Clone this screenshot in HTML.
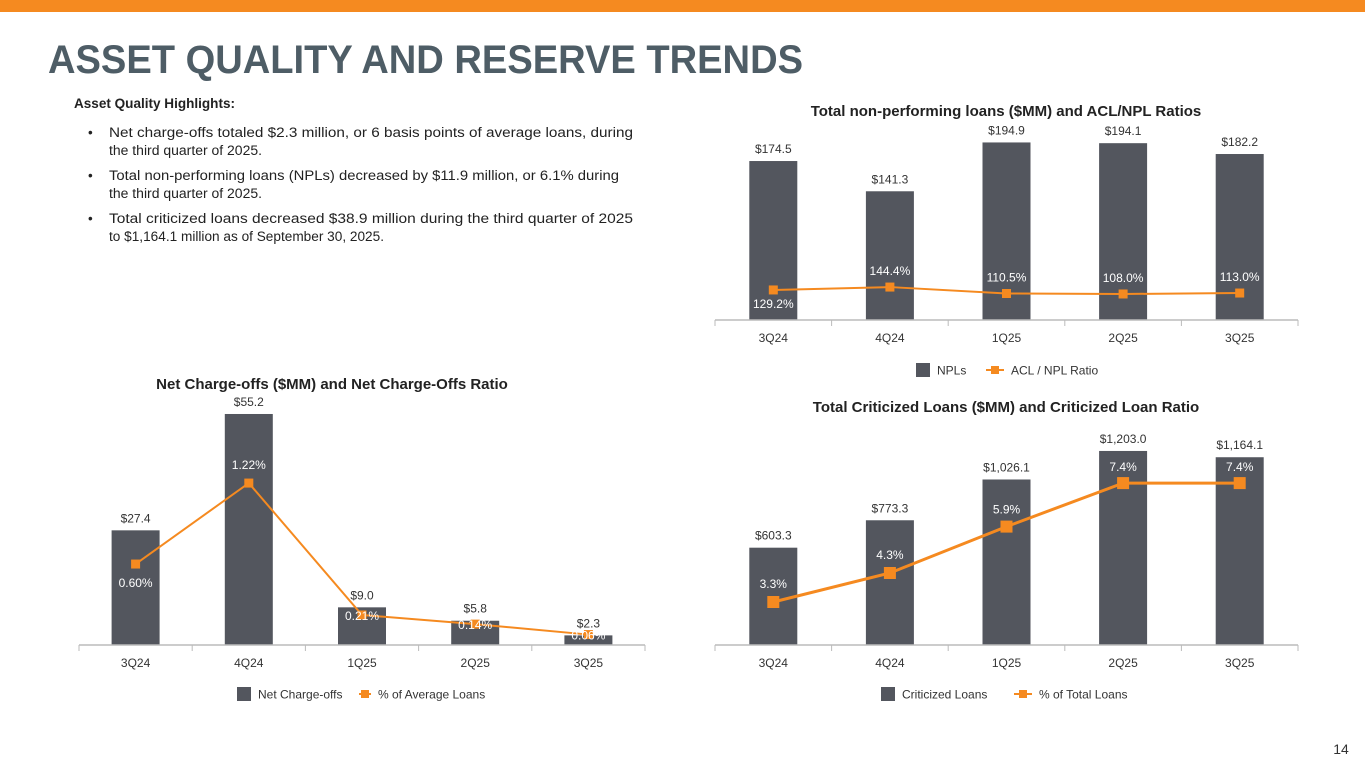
<!DOCTYPE html>
<html><head><meta charset="utf-8"><style>
html,body{margin:0;padding:0;background:#fff;}
body{width:1365px;height:768px;overflow:hidden;position:relative;font-family:"Liberation Sans",sans-serif;}
svg text{font-family:"Liberation Sans",sans-serif;}
</style></head><body>
<svg id="page" width="1365" height="768" viewBox="0 0 1365 768">
<rect x="0" y="0" width="1365" height="12" fill="#f58a20"/>
<text x="48" y="73" font-size="40" font-weight="bold" fill="#4e5d66" textLength="755" lengthAdjust="spacingAndGlyphs">ASSET QUALITY AND RESERVE TRENDS</text>
<g font-size="13.5" fill="#222">
<text x="74" y="108" font-weight="bold" textLength="161" lengthAdjust="spacingAndGlyphs">Asset Quality Highlights:</text>
<text x="88" y="137">•</text>
<text x="109" y="137" textLength="524" lengthAdjust="spacingAndGlyphs">Net charge-offs totaled $2.3 million, or 6 basis points of average loans, during</text>
<text x="109" y="155" textLength="153" lengthAdjust="spacingAndGlyphs">the third quarter of 2025.</text>
<text x="88" y="180">•</text>
<text x="109" y="180" textLength="510" lengthAdjust="spacingAndGlyphs">Total non-performing loans (NPLs) decreased by $11.9 million, or 6.1% during</text>
<text x="109" y="198" textLength="153" lengthAdjust="spacingAndGlyphs">the third quarter of 2025.</text>
<text x="88" y="223">•</text>
<text x="109" y="223" textLength="524" lengthAdjust="spacingAndGlyphs">Total criticized loans decreased $38.9 million during the third quarter of 2025</text>
<text x="109" y="241" textLength="275" lengthAdjust="spacingAndGlyphs">to $1,164.1 million as of September 30, 2025.</text>
</g>
<text x="1341" y="754" font-size="14" fill="#333" text-anchor="middle">14</text>
<g id="charts"></g>
</svg>
<script>
const categories = ["3Q24","4Q24","1Q25","2Q25","3Q25"];
const nplValues = [174.5,141.3,194.9,194.1,182.2];
const nplLabels = ["$174.5","$141.3","$194.9","$194.1","$182.2"];
const aclRatio = [129.2,144.4,110.5,108.0,113.0];
const aclLabels = ["129.2%","144.4%","110.5%","108.0%","113.0%"];
const ncoValues = [27.4,55.2,9.0,5.8,2.3];
const ncoLabels = ["$27.4","$55.2","$9.0","$5.8","$2.3"];
const ncoRatio = [0.60,1.22,0.21,0.14,0.06];
const ncoRatioLabels = ["0.60%","1.22%","0.21%","0.14%","0.06%"];
const critValues = [603.3,773.3,1026.1,1203.0,1164.1];
const critLabels = ["$603.3","$773.3","$1,026.1","$1,203.0","$1,164.1"];
const critRatio = [3.3,4.3,5.9,7.4,7.4];
const critRatioLabels = ["3.3%","4.3%","5.9%","7.4%","7.4%"];

const NS="http://www.w3.org/2000/svg";
const root=document.getElementById('charts');
function mk(tag,attrs,parent,text){const e=document.createElementNS(NS,tag);for(const k in attrs)e.setAttribute(k,attrs[k]);if(text!==undefined)e.textContent=text;(parent||root).appendChild(e);return e;}

function chart(cfg){
  const g=mk('g',{});
  
  
  const step=(cfg.x1-cfg.x0)/categories.length;
  const xc=i=>cfg.x0+step*(i+0.5);
  const yBar=v=>cfg.axisY-v*cfg.barScale;
  const yLine=v=>cfg.lineZero-v*cfg.lineScale;
  const t=mk('text',{x:cfg.titleX,y:cfg.titleY,'font-size':15,'font-weight':'bold',fill:'#222','text-anchor':'middle'},g,cfg.title);
  
  
  cfg.bars.forEach((v,i)=>{
    const r=mk('rect',{x:xc(i)-24,y:yBar(v),width:48,height:v*cfg.barScale,fill:'#53565e'},g);
    
    
    const l=mk('text',{x:xc(i),y:yBar(v)-8,'font-size':12,fill:'#333','text-anchor':'middle'},g,cfg.barLabels[i]);
    
    
  });
  const ax=mk('line',{x1:cfg.x0,y1:cfg.axisY,x2:cfg.x1,y2:cfg.axisY,stroke:'#bbb','stroke-width':1.5},g);
  
  
  for(let i=0;i<=categories.length;i++){
    const tk=mk('line',{x1:cfg.x0+step*i,y1:cfg.axisY,x2:cfg.x0+step*i,y2:cfg.axisY+6,stroke:'#bbb','stroke-width':1},g);
    
    
  }
  categories.forEach((c,i)=>{
    const l=mk('text',{x:xc(i),y:cfg.axisY+22,'font-size':12,fill:'#333','text-anchor':'middle'},g,c);
    
    
  });
  const pts=cfg.line.map((v,i)=>xc(i)+','+yLine(v)).join(' ');
  const pl=mk('polyline',{points:pts,fill:'none',stroke:'#f58a20','stroke-width':cfg.lw},g);
  
  
  cfg.line.forEach((v,i)=>{
    const s=cfg.ms;
    const m=mk('rect',{x:xc(i)-s/2,y:yLine(v)-s/2,width:s,height:s,fill:'#f58a20'},g);
    
    
    const l=mk('text',{x:xc(i),y:yLine(v)+cfg.lblOff[i],'font-size':12,fill:'#fff','text-anchor':'middle'},g,cfg.lineLabels[i]);
    
    
  });
  const lg=cfg.legend;
  const lw=lg.lw||18;
  const sq=mk('rect',{x:lg.sx,y:lg.y-7,width:14,height:14,fill:'#53565e'},g);
  
  
  const l1=mk('text',{x:lg.sx+21,y:lg.y+4.5,'font-size':12,fill:'#333'},g,lg.t1);
  
  
  const ll=mk('line',{x1:lg.lx,y1:lg.y,x2:lg.lx+lw,y2:lg.y,stroke:'#f58a20','stroke-width':2},g);
  
  
  const lm=mk('rect',{x:lg.lx+lw/2-4,y:lg.y-4,width:8,height:8,fill:'#f58a20'},g);
  
  
  const l2=mk('text',{x:lg.lx+lw+7,y:lg.y+4.5,'font-size':12,fill:'#333'},g,lg.t2);
  
  
}

chart({name:'npl-chart',title:'Total non-performing loans ($MM) and ACL/NPL Ratios',titleX:1006,titleY:116,
  x0:715,x1:1298,axisY:320,barScale:0.911,lineZero:314.5,lineScale:0.19,lw:2,ms:9,
  bars:nplValues,barLabels:nplLabels,line:aclRatio,lineLabels:aclLabels,lblOff:[18,-12,-12,-12,-12],
  legend:{y:370,sx:916,t1:'NPLs',lx:986,t2:'ACL / NPL Ratio'}});
chart({name:'nco-chart',title:'Net Charge-offs ($MM) and Net Charge-Offs Ratio',titleX:332,titleY:389,
  x0:79,x1:645,axisY:645,barScale:4.185,lineZero:642.4,lineScale:130.6,lw:2,ms:9,
  bars:ncoValues,barLabels:ncoLabels,line:ncoRatio,lineLabels:ncoRatioLabels,lblOff:[23,-14,5,5,5],
  legend:{y:694,sx:237,t1:'Net Charge-offs',lx:359,lw:12,t2:'% of Average Loans'}});
chart({name:'criticized-chart',title:'Total Criticized Loans ($MM) and Criticized Loan Ratio',titleX:1006,titleY:412,
  x0:715,x1:1298,axisY:645,barScale:0.1613,lineZero:697.7,lineScale:29.0,lw:3,ms:12,
  bars:critValues,barLabels:critLabels,line:critRatio,lineLabels:critRatioLabels,lblOff:[-14,-14,-13,-12,-12],
  legend:{y:694,sx:881,t1:'Criticized Loans',lx:1014,t2:'% of Total Loans'}});
</script>
</body></html>
